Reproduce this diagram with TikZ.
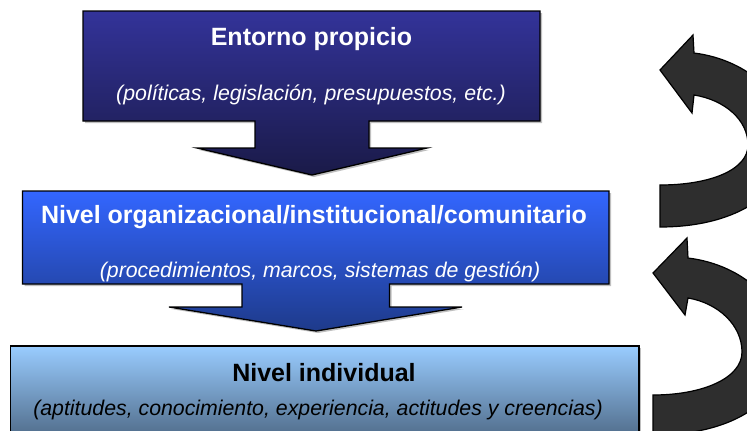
\documentclass[tikz,border=0pt]{standalone}
\usepackage{fontspec}
\setmainfont{Liberation Sans}
\definecolor{topA}{HTML}{333399}
\definecolor{topB}{HTML}{1A1A48}
\definecolor{midA}{HTML}{3366FF}
\definecolor{midB}{HTML}{1E3A8A}
\definecolor{lowA}{HTML}{99CCFF}
\definecolor{lowB}{HTML}{4A6480}
\definecolor{arrowgray}{HTML}{2E2E2E}
\begin{document}
\begin{tikzpicture}[x=1pt,y=-1pt,
  ttl/.style={font=\fontsize{25}{30}\selectfont\bfseries, anchor=base, inner sep=0pt},
  sub/.style={font=\fontsize{21.3}{26}\selectfont\itshape, anchor=base, inner sep=0pt},
  boxline/.style={draw=black, line width=1.3pt, line join=miter},
  shad/.style={fill=black, fill opacity=0.25},
  curv/.style={fill=arrowgray, draw=black, line width=1.2pt, line join=miter}]
\useasboundingbox (0,0) rectangle (747,431);
\clip (0,0) rectangle (747,431);
\def\topshape{(83,11) -- (540,11) -- (540,121) -- (369,121) -- (369,148) -- (427,148) -- (312,175) -- (197,148) -- (255,148) -- (255,121) -- (83,121) -- cycle}
\def\midshape{(22.5,191) -- (609,191) -- (609,284) -- (389.5,284) -- (389.5,307) -- (462,307) -- (316,331) -- (169,307) -- (242,307) -- (242,284) -- (22.5,284) -- cycle}
\def\lowshape{(10.7,346) rectangle (639,445)}
% shadows
\begin{scope}[shift={(2,2)}]
  \fill[shad] \topshape;
  \fill[shad] \midshape;
  \fill[shad] \lowshape;
\end{scope}
% shapes
\path[boxline, top color=topA, bottom color=topB] \topshape;
\path[boxline, top color=midA, bottom color=midB] \midshape;
\path[boxline, top color=lowA, bottom color=lowB] \lowshape;
% texts
\node[ttl, text=white] (t1) at (311.5,45) {Entorno propicio};
\node[sub, text=white] (s1) at (311,100) {(políticas, legislación, presupuestos, etc.)};
\node[ttl, text=white] (t2) at (314,223) {Nivel organizacional/institucional/comunitario};
\node[sub, text=white] (s2) at (320,277) {(procedimientos, marcos, sistemas de gestión)};
\node[ttl] (t3) at (324,381) {Nivel individual};
\node[sub] (s3) at (318,415) {(aptitudes, conocimiento, experiencia, actitudes y creencias)};
% curved arrows
\path[curv] (660,185) .. controls (710,185) and (748,170) .. (748,145)
  .. controls (748,120) and (725,100) .. (694,95)
  -- (692,113) -- (660,70) -- (693,35) -- (694,53)
  .. controls (750,60) and (790,100) .. (790,140)
  .. controls (790,190) and (740,227) .. (660,227) -- cycle;
\path[curv] (653,395) .. controls (703,395) and (742,378) .. (742,352)
  .. controls (742,325) and (718,303) .. (688,298)
  -- (685,315) -- (653,273) -- (687,238) -- (688,258)
  .. controls (745,265) and (785,305) .. (785,348)
  .. controls (785,400) and (735,435) .. (653,435) -- cycle;
\end{tikzpicture}
\end{document}
